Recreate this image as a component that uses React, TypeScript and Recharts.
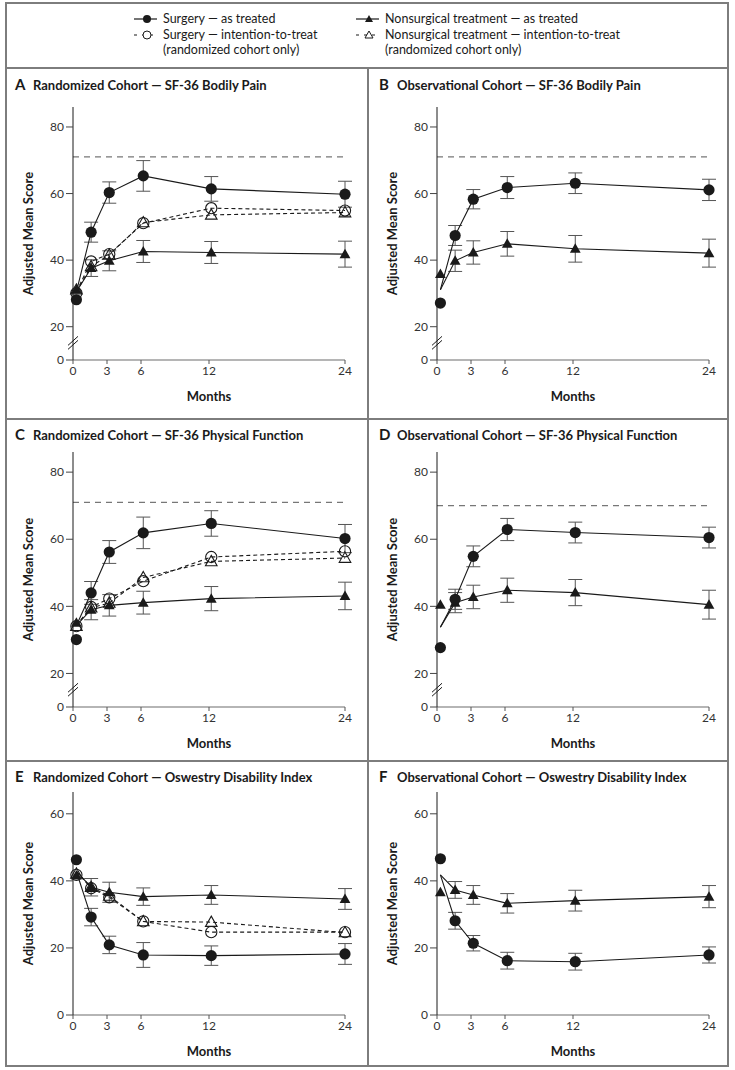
import React from 'react';
import { ComposedChart, ErrorBar, Line, ReferenceDot, ReferenceLine, XAxis, YAxis } from 'recharts';

// follow-up visits: baseline, 6 wk, 3, 6, 12, 24 months
const months = [0.3, 1.6, 3.2, 6.2, 12.2, 24];
const monthTicks = [0, 3, 6, 12, 24];
const sfTicks = [10, 20, 40, 60, 80]; // 10 is drawn as "0" below the axis break
const odiTicks = [0, 20, 40, 60];

// A — randomized, bodily pain
const aStart = 30.5;
const aSurgery = [28.1, 48.4, 60.3, 65.3, 61.4, 59.8];
const aSurgeryErr = [null, 3, 3.2, 4.6, 3.7, 3.9];
const aNonsurg = [31.1, 37.6, 39.8, 42.6, 42.3, 41.8];
const aNonsurgErr = [null, 2.5, 3, 3.3, 3.3, 3.9];
const aSurgeryItt = [30.1, 39.6, 41.8, 51.1, 55.6, 54.9];
const aNonsurgItt = [31.1, 38.1, 41.6, 51.3, 53.6, 54.3];

// B — observational, bodily pain
const bStart = 31.1;
const bSurgery = [27.1, 47.4, 58.3, 61.8, 63.1, 61.1];
const bSurgeryErr = [null, 3, 2.9, 3.3, 3.1, 3.2];
const bNonsurg = [35.8, 39.8, 42.3, 44.9, 43.4, 42.1];
const bNonsurgErr = [null, 3.2, 3.5, 3.7, 4, 4.2];

// C — randomized, physical function
const cStart = 34.3;
const cSurgery = [30.1, 44.0, 56.2, 61.9, 64.7, 60.2];
const cSurgeryErr = [null, 3.4, 3.4, 4.7, 3.8, 4.2];
const cNonsurg = [35.1, 39.0, 40.3, 41.1, 42.3, 43.1];
const cNonsurgErr = [null, 3, 3.2, 3.4, 3.6, 4.1];
const cSurgeryItt = [34.1, 39.8, 42.3, 47.5, 54.7, 56.4];
const cNonsurgItt = [34.1, 39.6, 41.0, 48.6, 53.4, 54.4];

// D — observational, physical function
const dStart = 33.8;
const dSurgery = [27.7, 42.1, 54.9, 62.9, 62.0, 60.5];
const dSurgeryErr = [null, 3, 3.1, 3.3, 3.1, 3.1];
const dNonsurg = [40.5, 41.1, 42.8, 44.8, 44.1, 40.5];
const dNonsurgErr = [null, 3, 3.5, 3.6, 3.9, 4.3];

// E — randomized, Oswestry
const eStart = 42.8;
const eSurgery = [46.3, 29.2, 20.9, 17.9, 17.7, 18.2];
const eSurgeryErr = [null, 2.6, 2.6, 3.7, 2.9, 3.1];
const eNonsurg = [41.6, 38.1, 36.6, 35.3, 35.8, 34.6];
const eNonsurgErr = [null, 2.6, 3, 2.6, 2.8, 3.1];
const eSurgeryItt = [41.8, 37.8, 35.1, 27.9, 24.7, 24.7];
const eNonsurgItt = [42.1, 38.1, 35.5, 27.9, 27.7, 24.6];

// F — observational, Oswestry
const fStart = 41.8;
const fSurgery = [46.6, 28.1, 21.4, 16.2, 15.9, 17.9];
const fSurgeryErr = [null, 2.5, 2.3, 2.5, 2.5, 2.4];
const fNonsurg = [36.6, 37.3, 35.8, 33.3, 34.1, 35.3];
const fNonsurgErr = [null, 2.5, 2.8, 2.9, 3.1, 3.3];

const FONT = "Lato, 'Open Sans', sans-serif";
const INK = '#1a1a1a';
const FRAME = '#7d7d7d';

type ShapeProps = { cx: number; cy: number };

const FilledCircle = ({ cx, cy }: ShapeProps) => <circle cx={cx} cy={cy} r={5.6} fill={INK} />;
const OpenCircle = ({ cx, cy }: ShapeProps) => (
  <circle cx={cx} cy={cy} r={5.6} fill="none" stroke={INK} strokeWidth={1.1} />
);
const FilledTriangle = ({ cx, cy }: ShapeProps) => (
  <path d={`M${cx},${cy - 5.5}L${cx + 5.4},${cy + 4}L${cx - 5.4},${cy + 4}Z`} fill={INK} />
);
const OpenTriangle = ({ cx, cy }: ShapeProps) => (
  <path
    d={`M${cx},${cy - 6}L${cx + 5.8},${cy + 4.3}L${cx - 5.8},${cy + 4.3}Z`}
    fill="none"
    stroke={INK}
    strokeWidth={1.1}
  />
);

function dotRenderer(Shape: (p: ShapeProps) => React.ReactElement, skipFirst: boolean) {
  return (p: any) => {
    const k = `${p.dataKey}-${p.index}`;
    if (p.cx == null || p.cy == null || p.value == null || (skipFirst && p.index === 0)) {
      return <g key={k} />;
    }
    return <Shape key={k} cx={p.cx} cy={p.cy} />;
  };
}

const AxisBreak = (p: any) => (
  <g stroke={INK} strokeWidth={1}>
    <line x1={p.cx - 5} y1={p.cy + 2} x2={p.cx + 5} y2={p.cy - 7} />
    <line x1={p.cx - 5} y1={p.cy + 6} x2={p.cx + 5} y2={p.cy - 3} />
  </g>
);

type SeriesDef = {
  key: string;
  values: number[];
  err?: (number | null)[];
  shape: (p: ShapeProps) => React.ReactElement;
  dashed?: boolean;
};

function makeRows(start: number, series: SeriesDef[]) {
  return months.map((m, i) => {
    const row: Record<string, number | null> = { month: m };
    series.forEach((s) => {
      row[s.key] = i === 0 ? start : s.values[i];
      row[s.key + 'Base'] = i === 0 ? s.values[0] : null;
      row[s.key + 'Err'] = s.err ? s.err[i] : null;
    });
    return row;
  });
}

type PanelProps = {
  letter: string;
  title: string;
  left: number; // x of y axis
  top: number; // y of plot top
  plotHeight: number;
  domain: [number, number];
  ticks: number[];
  axisBreak?: boolean;
  refY?: number;
  start: number;
  series: SeriesDef[];
  titleY: number;
};

const AXIS_W = 63;
const PLOT_W = 272;
const M_TOP = 10;
const X_H = 45;

function Panel(props: PanelProps) {
  const { letter, title, left, top, plotHeight, domain, ticks, axisBreak, refY, start, series, titleY } = props;
  const rows = makeRows(start, series);
  const width = AXIS_W + PLOT_W + 20;
  const height = M_TOP + plotHeight + X_H;
  const tickStyle = { fontFamily: FONT, fontSize: 12, fill: '#333' };
  return (
    <>
      <div
        style={{
          position: 'absolute',
          left: left - 58,
          top: titleY - 10,
          height: 20,
          lineHeight: '20px',
          fontFamily: FONT,
          fontWeight: 700,
          color: INK,
          whiteSpace: 'nowrap',
        }}
      >
        <span style={{ fontSize: 15, display: 'inline-block', width: 18 }}>{letter}</span>
        <span style={{ fontSize: 13 }}>{title}</span>
      </div>
      <div style={{ position: 'absolute', left: left - AXIS_W, top: top - M_TOP }}>
        <ComposedChart
          width={width}
          height={height}
          data={rows}
          margin={{ top: M_TOP, right: 20, bottom: 0, left: 0 }}
        >
          <XAxis
            dataKey="month"
            type="number"
            domain={[0, 24]}
            ticks={monthTicks}
            interval={0}
            height={X_H}
            tickSize={4}
            tickMargin={2}
            tick={tickStyle}
            axisLine={{ stroke: '#6d6d6d', strokeWidth: 1.2 }}
            tickLine={{ stroke: '#555' }}
            label={{
              value: 'Months',
              position: 'insideBottom',
              offset: 4,
              style: { fontFamily: FONT, fontSize: 13, fontWeight: 700, fill: INK },
            }}
          />
          <YAxis
            type="number"
            domain={domain}
            ticks={ticks}
            interval={0}
            width={AXIS_W}
            tickSize={7}
            tickMargin={2}
            tick={tickStyle}
            tickFormatter={(v: number) => (axisBreak && v === domain[0] ? '0' : String(v))}
            axisLine={{ stroke: INK, strokeWidth: 1 }}
            tickLine={{ stroke: '#444' }}
            label={{
              value: 'Adjusted Mean Score',
              angle: -90,
              position: 'center',
              dx: -13,
              style: { fontFamily: FONT, fontSize: 13, fontWeight: 700, fill: INK },
            }}
          />
          {refY != null && (
            <ReferenceLine y={refY} stroke="#777" strokeWidth={1.2} strokeDasharray="6 5" />
          )}
          {axisBreak && (
            <ReferenceDot x={0} y={domain[0] + 5} ifOverflow="visible" shape={AxisBreak} />
          )}
          {series.map((s) => (
            <Line
              key={s.key}
              dataKey={s.key}
              stroke={INK}
              strokeWidth={1.1}
              strokeDasharray={s.dashed ? '4 3' : undefined}
              dot={dotRenderer(s.shape, true)}
              activeDot={false}
              isAnimationActive={false}
            >
              {s.err && (
                <ErrorBar dataKey={s.key + 'Err'} direction="y" width={7} stroke="#555" strokeWidth={1} />
              )}
            </Line>
          ))}
          {series.map((s) => (
            <Line
              key={s.key + 'Base'}
              dataKey={s.key + 'Base'}
              stroke="none"
              dot={dotRenderer(s.shape, false)}
              activeDot={false}
              isAnimationActive={false}
            />
          ))}
        </ComposedChart>
      </div>
    </>
  );
}

function randomizedSeries(
  surg: number[],
  surgErr: (number | null)[],
  non: number[],
  nonErr: (number | null)[],
  surgItt: number[],
  nonItt: number[]
): SeriesDef[] {
  return [
    { key: 'nonItt', values: nonItt, shape: OpenTriangle, dashed: true },
    { key: 'surgItt', values: surgItt, shape: OpenCircle, dashed: true },
    { key: 'non', values: non, err: nonErr, shape: FilledTriangle },
    { key: 'surg', values: surg, err: surgErr, shape: FilledCircle },
  ];
}

function observationalSeries(
  surg: number[],
  surgErr: (number | null)[],
  non: number[],
  nonErr: (number | null)[]
): SeriesDef[] {
  return [
    { key: 'non', values: non, err: nonErr, shape: FilledTriangle },
    { key: 'surg', values: surg, err: surgErr, shape: FilledCircle },
  ];
}

function LegendSymbol({ kind }: { kind: 'surg' | 'non' | 'surgItt' | 'nonItt' }) {
  const dashed = kind === 'surgItt' || kind === 'nonItt';
  return (
    <svg width={26} height={12} style={{ display: 'block' }}>
      <line
        x1={1}
        y1={6}
        x2={24}
        y2={6}
        stroke={INK}
        strokeWidth={1.2}
        strokeDasharray={dashed ? '3 5' : undefined}
      />
      {kind === 'surg' && <circle cx={14} cy={6} r={4} fill={INK} />}
      {kind === 'surgItt' && <circle cx={14} cy={6} r={4} fill="#fff" stroke={INK} strokeWidth={1} />}
      {kind === 'non' && <path d="M14,2L18,9L10,9Z" fill={INK} />}
      {kind === 'nonItt' && <path d="M14,2L18,9L10,9Z" fill="#fff" stroke={INK} strokeWidth={1} />}
    </svg>
  );
}

function LegendItem({ left, top, kind, lines }: { left: number; top: number; kind: any; lines: string[] }) {
  return (
    <div style={{ position: 'absolute', left, top, display: 'flex', alignItems: 'flex-start' }}>
      <div style={{ marginTop: 2, marginRight: 4 }}>
        <LegendSymbol kind={kind} />
      </div>
      <div style={{ fontFamily: FONT, fontSize: 12.5, lineHeight: '15px', color: INK }}>
        {lines.map((l) => (
          <div key={l}>{l}</div>
        ))}
      </div>
    </div>
  );
}

export default function App() {
  const hLine = (y: number) => (
    <div style={{ position: 'absolute', left: 5, top: y - 1, width: 724, height: 2, background: FRAME }} />
  );
  return (
    <div style={{ position: 'absolute', left: 0, top: 0, width: 735, height: 1070, background: '#fff' }}>
      <div
        style={{
          position: 'absolute',
          left: 5,
          top: 2,
          width: 720,
          height: 1061,
          border: `2px solid ${FRAME}`,
        }}
      />
      {hLine(68)}
      {hLine(419)}
      {hLine(761)}
      <div style={{ position: 'absolute', left: 367, top: 68, width: 2, height: 998, background: FRAME }} />

      <LegendItem left={133} top={11} kind="surg" lines={['Surgery — as treated']} />
      <LegendItem
        left={133}
        top={27}
        kind="surgItt"
        lines={['Surgery — intention-to-treat', '(randomized cohort only)']}
      />
      <LegendItem left={355} top={11} kind="non" lines={['Nonsurgical treatment — as treated']} />
      <LegendItem
        left={355}
        top={27}
        kind="nonItt"
        lines={['Nonsurgical treatment — intention-to-treat', '(randomized cohort only)']}
      />

      <Panel
        letter="A"
        title="Randomized Cohort — SF-36 Bodily Pain"
        left={73}
        top={107}
        plotHeight={253}
        domain={[10, 86]}
        ticks={sfTicks}
        axisBreak
        refY={71}
        start={aStart}
        series={randomizedSeries(aSurgery, aSurgeryErr, aNonsurg, aNonsurgErr, aSurgeryItt, aNonsurgItt)}
        titleY={84}
      />
      <Panel
        letter="B"
        title="Observational Cohort — SF-36 Bodily Pain"
        left={437}
        top={107}
        plotHeight={253}
        domain={[10, 86]}
        ticks={sfTicks}
        axisBreak
        refY={71}
        start={bStart}
        series={observationalSeries(bSurgery, bSurgeryErr, bNonsurg, bNonsurgErr)}
        titleY={84}
      />
      <Panel
        letter="C"
        title="Randomized Cohort — SF-36 Physical Function"
        left={73}
        top={452}
        plotHeight={255}
        domain={[10, 86]}
        ticks={sfTicks}
        axisBreak
        refY={71}
        start={cStart}
        series={randomizedSeries(cSurgery, cSurgeryErr, cNonsurg, cNonsurgErr, cSurgeryItt, cNonsurgItt)}
        titleY={434}
      />
      <Panel
        letter="D"
        title="Observational Cohort — SF-36 Physical Function"
        left={437}
        top={452}
        plotHeight={255}
        domain={[10, 86]}
        ticks={sfTicks}
        axisBreak
        refY={70}
        start={dStart}
        series={observationalSeries(dSurgery, dSurgeryErr, dNonsurg, dNonsurgErr)}
        titleY={434}
      />
      <Panel
        letter="E"
        title="Randomized Cohort — Oswestry Disability Index"
        left={73}
        top={792}
        plotHeight={223}
        domain={[0, 66.5]}
        ticks={odiTicks}
        start={eStart}
        series={randomizedSeries(eSurgery, eSurgeryErr, eNonsurg, eNonsurgErr, eSurgeryItt, eNonsurgItt)}
        titleY={776}
      />
      <Panel
        letter="F"
        title="Observational Cohort — Oswestry Disability Index"
        left={437}
        top={792}
        plotHeight={223}
        domain={[0, 66.5]}
        ticks={odiTicks}
        start={fStart}
        series={observationalSeries(fSurgery, fSurgeryErr, fNonsurg, fNonsurgErr)}
        titleY={776}
      />
    </div>
  );
}
